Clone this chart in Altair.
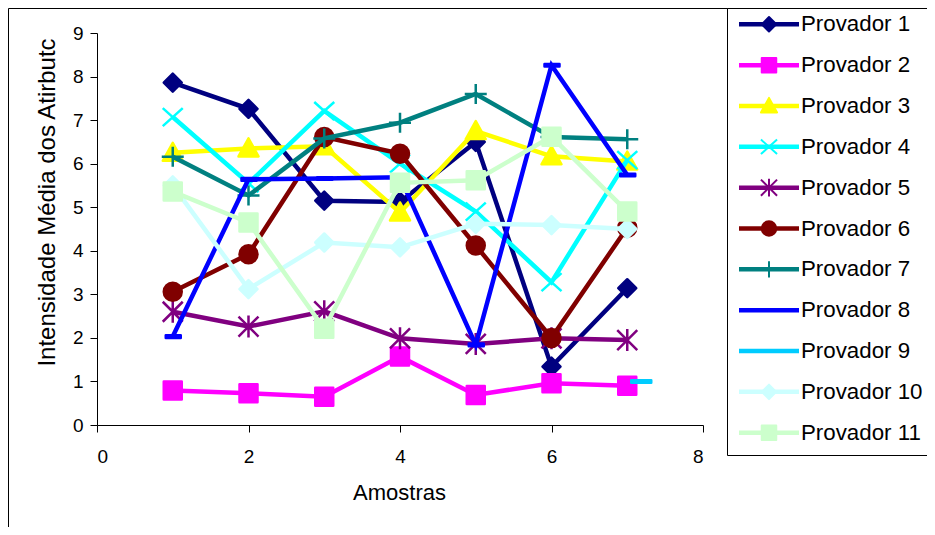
import altair as alt
import pandas as pd

# ---------------- data ----------------
series = ["Provador 1", "Provador 2", "Provador 3", "Provador 4", "Provador 5",
          "Provador 6", "Provador 7", "Provador 8", "Provador 9", "Provador 10",
          "Provador 11"]
amostras = [1, 2, 3, 4, 5, 6, 7]
p1 = [7.86, 7.26, 5.15, 5.12, 6.5, 1.34, 3.14]
p2 = [0.79, 0.73, 0.65, 1.57, 0.69, 0.96, 0.9]
p3 = [6.25, 6.35, 6.4, 4.88, 6.75, 6.17, 6.05]
p4 = [7.07, 5.55, 7.21, 6.0, 4.9, 3.28, 6.08]
p5 = [2.6, 2.26, 2.61, 1.99, 1.86, 1.99, 1.95]
p6 = [3.06, 3.92, 6.61, 6.23, 4.12, 2.0, 4.53]
p7 = [6.16, 5.27, 6.58, 6.94, 7.6, 6.61, 6.56]
p8 = [2.03, 5.64, 5.66, 5.69, 1.84, 8.26, 5.74]
p9_x = [7]
p9 = [1.0]
p10 = [5.5, 3.12, 4.19, 4.08, 4.62, 4.59, 4.5]
p11 = [5.36, 4.65, 2.21, 5.56, 5.62, 6.62, 4.9]

values = [p1, p2, p3, p4, p5, p6, p7, p8, p9, p10, p11]
xs = [amostras] * 8 + [p9_x] + [amostras] * 2

colors = ["#000080", "#FF00FF", "#FFFF00", "#00FFFF", "#800080", "#800000",
          "#008080", "#0000FF", "#00CCFF", "#CCFFFF", "#CCFFCC"]

# marker paths in pixel units (symbol size 4 -> 1 unit = 1 px)
diamond = "M-9,0L0,-9L9,0L0,9Z"
square = "M-9,-9H9V9H-9Z"
triangle = "M0,-10L10,8L-10,8Z"
xmark = "M-10,-9L10,9M-10,9L10,-9"
asterisk = "M-10,-10L10,10M-10,10L10,-10M0,-11L0,11"
circle = "M-9,0A9,9 0 1,0 9,0A9,9 0 1,0 -9,0Z"
plus = "M-11,0L11,0M0,-10L0,10"
dash8 = "M-7,-1.3H8V1.3H-7Z"
dash9 = "M4,-1.3H24V1.3H4Z"
shapes = [diamond, square, triangle, xmark, asterisk, circle, plus, dash8,
          dash9, diamond, square]
legend_shapes = [diamond, square, triangle, xmark, asterisk, circle, plus,
                 "M0,0", "M0,0", diamond, square]

rows = []
for s, xv, yv in zip(series, xs, values):
    for a, v in zip(xv, yv):
        rows.append({"serie": s, "amostra": a, "valor": v})
df = pd.DataFrame(rows)

FONT = "Liberation Sans"

x_enc = alt.X("amostra:Q", scale=alt.Scale(domain=[0, 8], nice=False),
              axis=alt.Axis(values=[0, 2, 4, 6, 8], tickSize=7, labelPadding=15,
                            labelFontSize=19, labelFont=FONT, labelColor="black",
                            domainColor="black", tickColor="black", grid=False,
                            title="Amostras", titleFont=FONT, titleFontSize=22,
                            titleFontWeight="normal", titleColor="black",
                            titleX=302, titleY=67, titleBaseline="middle"))
y_enc = alt.Y("valor:Q", scale=alt.Scale(domain=[0, 9], nice=False),
              axis=alt.Axis(values=list(range(10)), tickSize=7, labelPadding=7,
                            labelFontSize=19, labelFont=FONT, labelColor="black",
                            domainColor="black", tickColor="black", grid=False,
                            title="Intensidade Média dos Atirbutc", titleFont=FONT,
                            titleFontSize=24, titleFontWeight="normal",
                            titleColor="black", titleX=-50, titleY=169,
                            titleAngle=270, titleAlign="center",
                            titleBaseline="middle"))

base = alt.Chart(df)
main_layers = []
for i, s in enumerate(series):
    sub = base.transform_filter(alt.datum.serie == s)
    if len(values[i]) > 1:
        main_layers.append(
            sub.mark_line(color=colors[i], strokeWidth=4.5, strokeJoin="miter")
            .encode(x=x_enc, y=y_enc, order="amostra:Q"))
    main_layers.append(
        sub.mark_point(shape=shapes[i], size=4, filled=True, fill=colors[i],
                       stroke=colors[i], strokeWidth=2.5, opacity=1,
                       strokeJoin="round")
        .encode(x=x_enc, y=y_enc))
main = alt.layer(*main_layers)

# ---------------- legend ----------------
leg_df = pd.DataFrame({"serie": series})
leg_y = alt.Y("serie:N", scale=alt.Scale(type="point", domain=series,
                                          range=[-8.7, 399.7], padding=0),
              axis=None)
col_scale = alt.Scale(domain=series, range=colors)
leg_base = alt.Chart(leg_df)

box = alt.Chart(pd.DataFrame({"k": [0]})).mark_rect(
    fill="white", stroke="black", strokeWidth=1).encode(
    x=alt.value(630.5), x2=alt.value(950), y=alt.value(-24.5), y2=alt.value(422.5))

leg_lines = leg_base.mark_rule(strokeWidth=4.5).encode(
    x=alt.value(642), x2=alt.value(702), y=leg_y,
    color=alt.Color("serie:N", scale=col_scale, legend=None))
leg_pts = leg_base.mark_point(size=2.6, filled=True, strokeWidth=2,
                              opacity=1, strokeJoin="round").encode(
    x=alt.value(672), y=leg_y,
    shape=alt.Shape("serie:N", scale=alt.Scale(domain=series, range=legend_shapes),
                    legend=None),
    fill=alt.Fill("serie:N", scale=col_scale, legend=None),
    stroke=alt.Stroke("serie:N", scale=col_scale, legend=None))
leg_text = leg_base.mark_text(align="left", baseline="middle", fontSize=22.3,
                              font=FONT, color="black").encode(
    x=alt.value(704), y=leg_y, text="serie:N")
legend = alt.layer(box, leg_lines, leg_pts, leg_text)

frame = alt.Chart(pd.DataFrame({"k": [0]})).mark_rect(
    fillOpacity=0, stroke="black", strokeWidth=1).encode(
    x=alt.value(-88.5), x2=alt.value(950), y=alt.value(-24.5), y2=alt.value(700))

chart = alt.layer(frame, main, legend).resolve_scale(
    y="independent", color="independent", fill="independent",
    stroke="independent", shape="independent"
).properties(
    width=606, height=392,
    autosize=alt.AutoSizeParams(type="none"),
    padding={"left": 89, "top": 25, "right": 224, "bottom": 102},
    background="white"
).configure_view(stroke=None)

chart.save("out.html", embed_options={"renderer": "svg", "actions": False})
